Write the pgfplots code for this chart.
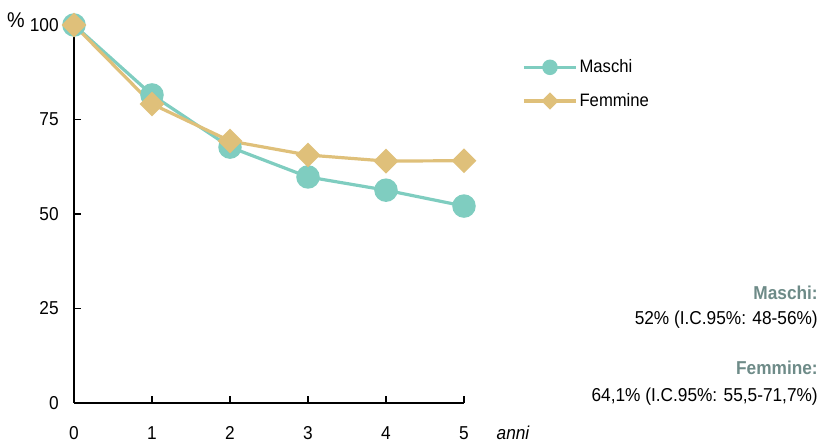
\documentclass[border=0pt]{standalone}
\usepackage{pgfplots}
\pgfplotsset{compat=1.18}
\usepackage{fontspec}
\setmainfont{Liberation Sans}[FakeStretch=0.925]
\definecolor{teal1}{HTML}{7FCDC0}
\definecolor{gold1}{HTML}{DFC07A}
\definecolor{graytxt}{HTML}{6E8B88}
\begin{document}
\begin{tikzpicture}[font=\fontsize{14pt}{17pt}\selectfont]
\path[use as bounding box] (0,0) rectangle (616.5pt,335.25pt);
\begin{axis}[
  at={(55.5pt,33pt)}, anchor=south west,
  scale only axis, width=292.5pt, height=283.5pt,
  xmin=0, xmax=5, ymin=0, ymax=100,
  axis x line=bottom, axis y line=left,
  axis line style={-, line width=1.5pt, black},
  xtick={0,1,2,3,4,5}, ytick={0,25,50,75,100},
  tick style={line width=1.2pt, black},
  major tick length=5pt,
  tick align=inside,
  /pgf/number format/assume math mode=true,
  ticklabel style={font=\fontsize{14pt}{17pt}\selectfont},
  yticklabel style={xshift=-8pt},
  xticklabel style={yshift=-14pt},
  clip=false,
  legend style={at={(1.149,0.914)}, anchor=north west, draw=none, fill=none,
    font=\fontsize{13.5pt}{16pt}\selectfont, row sep=11pt, inner sep=0pt,
    nodes={inner sep=1.5pt}},
  legend cell align=left,
  legend image code/.code={\draw[#1, mark=none] (0pt,0pt) -- (39pt,0pt);
     \draw[#1, only marks] plot coordinates {(19.5pt,0pt)};},
]
\addplot[color=teal1, line width=2.4pt, mark=*, mark size=7.6pt,
  mark options={fill=teal1, draw=none},
  legend image post style={mark size=4.6pt}]
  coordinates {(0,100) (1,81.5) (2,67.7) (3,59.8) (4,56.3) (5,52.1)};
\addlegendentry{Maschi}
\addplot[color=gold1, line width=2.4pt, mark=square*, mark size=5.4pt,
  mark options={fill=gold1, draw=none, rotate=45},
  legend image post style={mark size=3.4pt}]
  coordinates {(0,100) (1,79.1) (2,69.3) (3,65.6) (4,64.0) (5,64.1)};
\addlegendentry{Femmine}
\end{axis}
\node[font=\fontsize{16pt}{18pt}\selectfont] at (12pt,320.25pt) {\%};
\node at (384.75pt,10.5pt) {\itshape anni};
\node[anchor=east, inner sep=0pt, text=graytxt, font=\fontsize{14pt}{17pt}\selectfont\bfseries] at (613.5pt,115.5pt) {Maschi:};
\node[anchor=east, inner sep=0pt] at (613.5pt,95.25pt) {52\% (I.C.95\%: 48-56\%)};
\node[anchor=east, inner sep=0pt, text=graytxt, font=\fontsize{14pt}{17pt}\selectfont\bfseries] at (613.5pt,59.25pt) {Femmine:};
\node[anchor=east, inner sep=0pt] at (613.5pt,37.5pt) {64,1\% (I.C.95\%: 55,5-71,7\%)};
\end{tikzpicture}
\end{document}
